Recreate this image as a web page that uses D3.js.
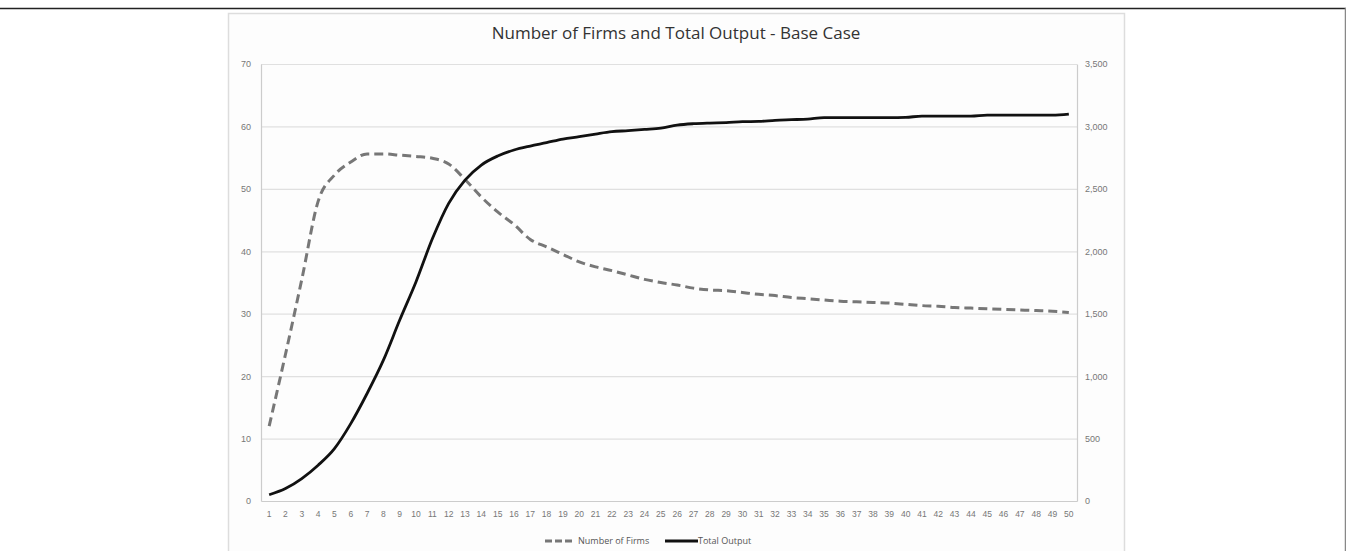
<!DOCTYPE html>
<html>
<head>
<meta charset="utf-8">
<script src="https://cdn.jsdelivr.net/npm/d3@7"></script>
<style>
    body { margin: 0; background: #fff; }
    svg { display: block; font-family: 'Open Sans', 'Lato', sans-serif; font-variant-numeric: oldstyle-nums; }
    .tick text { fill: #777; }
</style>
</head>
<body>
<div id="chart"></div>
<script>
const days = ['1','2','3','4','5','6','7','8','9','10','11','12','13','14','15','16','17','18','19','20',
    '21','22','23','24','25','26','27','28','29','30','31','32','33','34','35','36','37','38','39','40',
    '41','42','43','44','45','46','47','48','49','50'];

const firms = [12, 23.5, 35.5, 48, 52.2, 54.3, 55.6, 55.6, 55.4, 55.2,
    54.9, 54.0, 51.5, 48.7, 46.3, 44.3, 41.9, 40.7, 39.5, 38.3,
    37.5, 36.9, 36.2, 35.5, 35.0, 34.6, 34.1, 33.8, 33.7, 33.4,
    33.1, 32.9, 32.6, 32.4, 32.2, 32.0, 31.9, 31.8, 31.7, 31.5,
    31.3, 31.2, 31.0, 30.9, 30.8, 30.7, 30.6, 30.5, 30.4, 30.2];

const output = [50, 100, 180, 287, 420, 620, 861, 1128, 1449, 1756,
    2100, 2384, 2570, 2691, 2763, 2811, 2843, 2870, 2899, 2918,
    2939, 2958, 2966, 2976, 2987, 3011, 3022, 3027, 3030, 3038,
    3040, 3049, 3054, 3059, 3070, 3070, 3070, 3070, 3070, 3072,
    3083, 3083, 3083, 3083, 3091, 3091, 3091, 3091, 3090, 3099];

const leftTicks = [0, 10, 20, 30, 40, 50, 60, 70];
const rightTicks = [0, 500, 1000, 1500, 2000, 2500, 3000, 3500];

const title = 'Number of Firms and Total Output - Base Case';
const legendLabels = ['Number of Firms', 'Total Output'];

const W = 1346, H = 551;
const plot = { left: 261, right: 1077, top: 64, bottom: 501 };

const svg = d3.select('#chart')
    .append('svg')
    .attr('width', W)
    .attr('height', H);

// page frame
svg.append('line')
    .attr('x1', 0).attr('x2', W)
    .attr('y1', 8.5).attr('y2', 8.5)
    .attr('stroke', '#222')
    .attr('stroke-width', 1.5);

svg.append('line')
    .attr('x1', 1345.5).attr('x2', 1345.5)
    .attr('y1', 8).attr('y2', H)
    .attr('stroke', '#888')
    .attr('stroke-width', 1.5);

// chart box
svg.append('rect')
    .attr('x', 228.5)
    .attr('y', 13.5)
    .attr('width', 896)
    .attr('height', H)
    .attr('fill', '#fdfdfd')
    .attr('stroke', '#ddd')
    .attr('stroke-width', 1.5);

const x = d3.scaleBand()
    .domain(days)
    .range([plot.left, plot.right]);

const yL = d3.scaleLinear()
    .domain([0, 70])
    .range([plot.bottom, plot.top]);

const yR = d3.scaleLinear()
    .domain([0, 3500])
    .range([plot.bottom, plot.top]);

const cx = d => x(d) + x.bandwidth() / 2;

// gridlines
svg.append('g')
    .attr('class', 'grid')
    .attr('transform', `translate(${plot.left},0)`)
    .call(d3.axisLeft(yL)
        .tickValues(leftTicks.slice(1))
        .tickSize(-(plot.right - plot.left))
        .tickFormat('')
    )
    .call(g => g.select('.domain').remove())
    .call(g => g.selectAll('line').attr('stroke', '#e0e0e0').attr('stroke-width', 1.2));

// left axis
svg.append('g')
    .attr('transform', `translate(${plot.left},0)`)
    .call(d3.axisLeft(yL).tickValues(leftTicks).tickSize(0).tickPadding(10))
    .call(g => g.select('.domain').attr('stroke', '#ccc').attr('stroke-width', 1.2))
    .call(g => g.selectAll('text').style('font-size', '9px'));

// right axis
svg.append('g')
    .attr('transform', `translate(${plot.right},0)`)
    .call(d3.axisRight(yR).tickValues(rightTicks).tickSize(0).tickPadding(8).tickFormat(d3.format(',')))
    .call(g => g.select('.domain').attr('stroke', '#ccc').attr('stroke-width', 1.2))
    .call(g => g.selectAll('text').style('font-size', '9px'));

// bottom axis
svg.append('g')
    .attr('transform', `translate(0,${plot.bottom})`)
    .call(d3.axisBottom(x).tickSize(0).tickPadding(10))
    .call(g => g.select('.domain').attr('stroke', '#ccc').attr('stroke-width', 1.2))
    .call(g => g.selectAll('text').style('font-size', '8.5px'));

const firmsLine = d3.line()
    .x((d, i) => cx(days[i]))
    .y(d => yL(d))
    .curve(d3.curveMonotoneX);

const outputLine = d3.line()
    .x((d, i) => cx(days[i]))
    .y(d => yR(d))
    .curve(d3.curveMonotoneX);

svg.append('path')
    .datum(firms)
    .attr('fill', 'none')
    .attr('stroke', '#777')
    .attr('stroke-width', 3)
    .attr('stroke-dasharray', '9,5')
    .attr('d', firmsLine);

svg.append('path')
    .datum(output)
    .attr('fill', 'none')
    .attr('stroke', '#111')
    .attr('stroke-width', 2.8)
    .attr('d', outputLine);

// title
svg.append('text')
    .attr('x', 676)
    .attr('y', 39)
    .attr('text-anchor', 'middle')
    .style('font-size', '17px')
    .style('fill', '#333')
    .text(title);

// legend
const legend = svg.append('g')
    .attr('transform', 'translate(545, 541)');

legend.append('line')
    .attr('x1', 0).attr('x2', 28)
    .attr('y1', 0).attr('y2', 0)
    .attr('stroke', '#777')
    .attr('stroke-width', 3)
    .attr('stroke-dasharray', '7,3');

legend.append('text')
    .attr('x', 33)
    .attr('y', 3)
    .style('font-size', '9px')
    .style('fill', '#555')
    .text(legendLabels[0]);

legend.append('line')
    .attr('x1', 120).attr('x2', 153)
    .attr('y1', 0).attr('y2', 0)
    .attr('stroke', '#111')
    .attr('stroke-width', 3);

legend.append('text')
    .attr('x', 153)
    .attr('y', 3)
    .style('font-size', '9px')
    .style('fill', '#555')
    .text(legendLabels[1]);
</script>
</body>
</html>
